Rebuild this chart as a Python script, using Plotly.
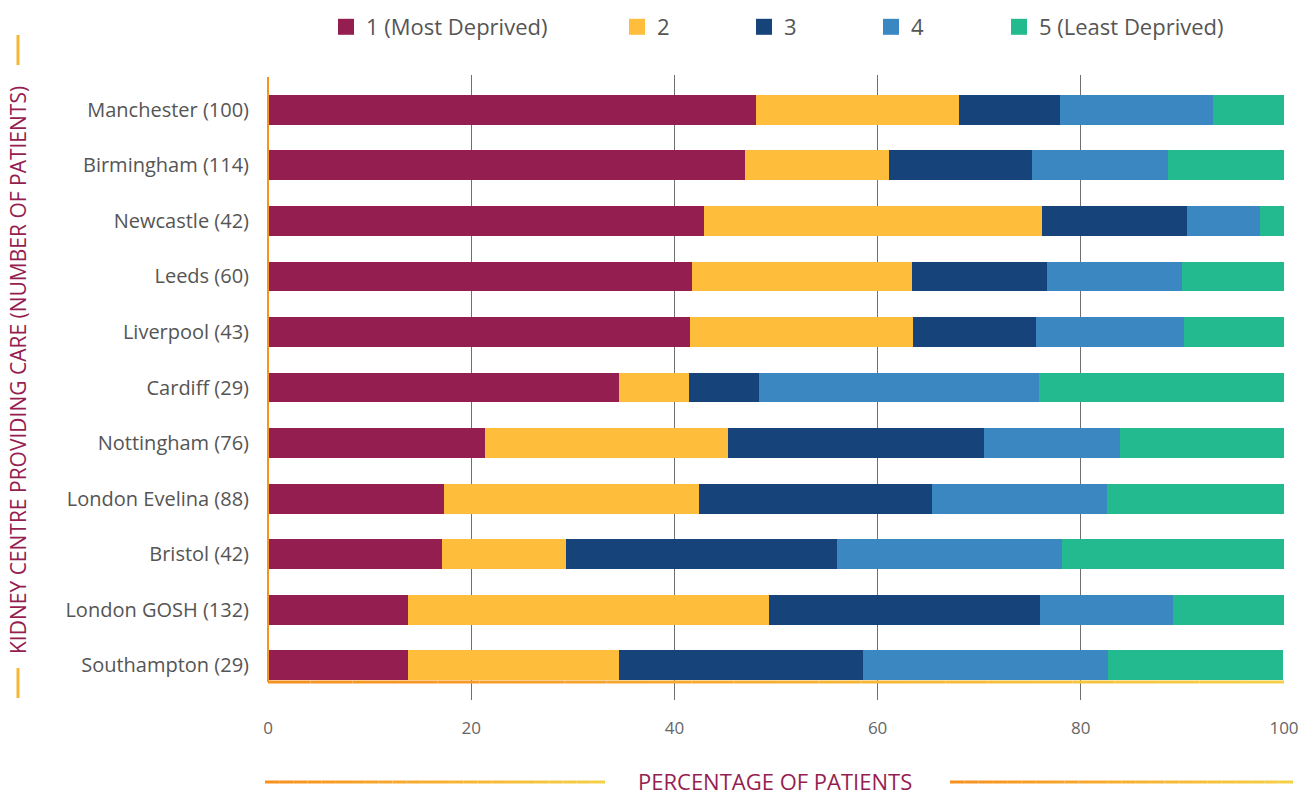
import plotly.graph_objects as go

centres = ["Manchester (100)", "Birmingham (114)", "Newcastle (42)", "Leeds (60)",
           "Liverpool (43)", "Cardiff (29)", "Nottingham (76)", "London Evelina (88)",
           "Bristol (42)", "London GOSH (132)", "Southampton (29)"]

q1 = [48.0, 46.9, 42.9, 41.7, 41.5, 34.5, 21.4, 17.3, 17.1, 13.8, 13.8]
q2 = [20.0, 14.2, 33.3, 21.7, 22.0, 6.9, 23.9, 25.1, 12.2, 35.5, 20.7]
q3 = [10.0, 14.1, 14.3, 13.3, 12.1, 6.9, 25.2, 23.0, 26.7, 26.7, 24.1]
q4 = [15.0, 13.4, 7.1, 13.3, 14.6, 27.6, 13.4, 17.2, 22.1, 13.1, 24.1]
q5 = [7.0, 11.4, 2.4, 10.0, 9.8, 24.1, 16.1, 17.4, 21.9, 10.9, 17.2]

series_names = ["1 (Most Deprived)", "2", "3", "4", "5 (Least Deprived)"]
series_vals = [q1, q2, q3, q4, q5]
colors = ["#951e50", "#febd3a", "#15437a", "#3b87c2", "#22ba8e"]

x_ticks = [0, 20, 40, 60, 80, 100]

FONT = "Open Sans, Lato, sans-serif"
MAROON = "#951e50"
FW, FH = 1300, 796

# plot area in pixels
L, R, T, B = 268, 1284, 75, 700
W, H = R - L, B - T


def px(x):
    return (x - L) / W


def py(y):
    return (B - y) / H


fig = go.Figure()

for name, vals, col in zip(series_names, series_vals, colors):
    fig.add_trace(go.Bar(
        y=centres, x=vals, orientation="h", name=name,
        marker=dict(color=col, line=dict(width=0)),
        showlegend=False,
    ))

# legend entries (one legend per entry for precise placement)
legend_left_px = [326, 617, 744, 871, 999]
for i, (name, col) in enumerate(zip(series_names, colors)):
    lg = "legend" if i == 0 else f"legend{i+1}"
    fig.add_trace(go.Scatter(
        x=[None], y=[None], mode="markers", name=name, legend=lg,
        marker=dict(symbol="square", size=18, color=col),
        showlegend=True,
    ))

legend_cfg = {}
for i, lx in enumerate(legend_left_px):
    key = "legend" if i == 0 else f"legend{i+1}"
    legend_cfg[key] = dict(
        xref="container", yref="container",
        x=lx / FW, y=1 - 27 / FH, xanchor="left", yanchor="middle",
        orientation="h", bgcolor="rgba(0,0,0,0)",
        font=dict(family=FONT, size=22, color="#555555"),
        itemsizing="trace",
    )

shapes = []


def hex2rgb(h):
    h = h.lstrip("#")
    return tuple(int(h[i:i + 2], 16) for i in (0, 2, 4))


def gradient_line(x0, x1, y, c0, c1, width, n=24):
    a, b = hex2rgb(c0), hex2rgb(c1)
    for k in range(n):
        t = k / (n - 1)
        c = tuple(round(a[j] + (b[j] - a[j]) * t) for j in range(3))
        shapes.append(dict(
            type="line", xref="paper", yref="paper",
            x0=px(x0 + (x1 - x0) * k / n), x1=px(x0 + (x1 - x0) * (k + 1) / n),
            y0=py(y), y1=py(y),
            line=dict(color=f"rgb{c}", width=width),
        ))


# axis lines
shapes.append(dict(type="line", xref="paper", yref="paper",
                   x0=px(268), x1=px(268), y0=py(77), y1=py(682),
                   line=dict(color="#f7941d", width=2)))
gradient_line(268, 1284, 682, "#f7901e", "#f5cf45", 3)

# x title decoration lines
gradient_line(265, 605, 782, "#f7901e", "#f5cf45", 3)
gradient_line(950, 1293, 782, "#f7901e", "#f5cf45", 3)

# y title decoration lines
for (y0, y1) in [(35, 65), (668, 698)]:
    shapes.append(dict(type="line", xref="paper", yref="paper",
                       x0=px(18), x1=px(18), y0=py(y0), y1=py(y1),
                       line=dict(color="#f7b733", width=3)))

annotations = [
    dict(text="PERCENTAGE OF PATIENTS", xref="paper", yref="paper",
         x=px(775), y=py(781), xanchor="center", yanchor="middle", showarrow=False,
         font=dict(family=FONT, size=22, color=MAROON)),
    dict(text="KIDNEY CENTRE PROVIDING CARE (NUMBER OF PATIENTS)", xref="paper", yref="paper",
         x=px(18), y=py(370), xanchor="center", yanchor="middle", showarrow=False,
         textangle=-90, font=dict(family=FONT, size=21, color=MAROON)),
]

fig.update_layout(
    width=FW, height=FH,
    margin=dict(l=L, r=FW - R, t=T, b=FH - B, pad=0, autoexpand=False),
    barmode="stack", bargap=0.46,
    plot_bgcolor="white", paper_bgcolor="white",
    font=dict(family=FONT, color="#555555"),
    xaxis=dict(range=[0, 100], tickvals=x_ticks, ticktext=[str(v) for v in x_ticks],
               showgrid=True, gridcolor="#6f6f6f", gridwidth=1, zeroline=False,
               showline=False, ticks="", ticklabelstandoff=16,
               tickfont=dict(family=FONT, size=17, color="#666666"), fixedrange=True),
    yaxis=dict(categoryorder="array", categoryarray=centres,
               range=[len(centres) - 1 + 0.63, -0.63],
               showgrid=False, zeroline=False, showline=False, ticks="",
               ticklabelstandoff=18,
               tickfont=dict(family=FONT, size=20, color="#555555")),
    shapes=shapes, annotations=annotations,
    **legend_cfg,
)

fig.write_html("out.html", config={"displayModeBar": False},
               post_script="document.body.style.margin='0px';document.body.style.overflow='hidden';")
